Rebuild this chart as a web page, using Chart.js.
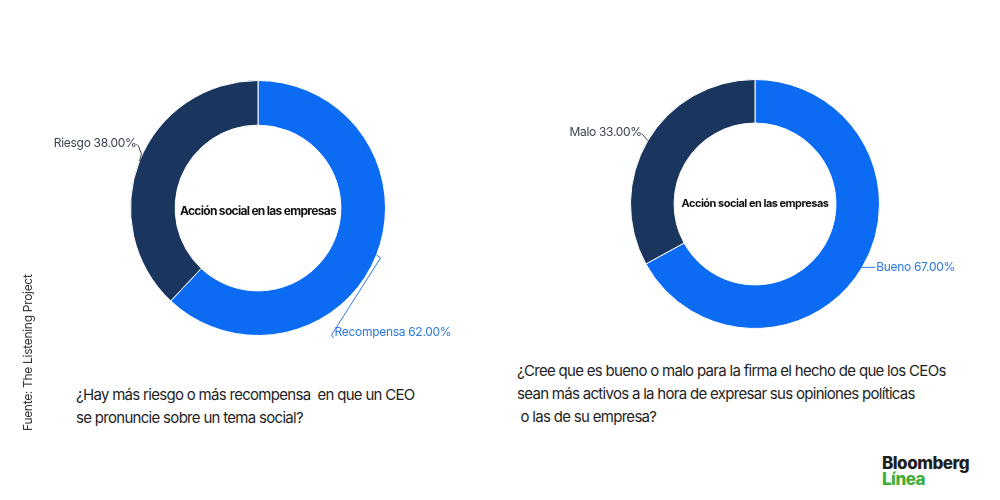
<!DOCTYPE html>
<html lang="es">
<head>
<meta charset="UTF-8">
<title>Acción social en las empresas</title>
<script src="https://cdn.jsdelivr.net/npm/chart.js@4"></script>
<style>
  body { margin: 0; width: 1000px; height: 500px; background: #fff; position: relative; overflow: hidden;
         font-family: Inter, "Noto Sans", sans-serif; color: #1e1e1e; }
  canvas { position: absolute; }
  #c1 { left: 28px; top: 58px; }
  #c2 { left: 525px; top: 54px; }
  .q { position: absolute; font-size: 15px; line-height: 23px; letter-spacing: -0.7px; white-space: pre; }
  #q1 { left: 76px; top: 383px; }
  #q2 { left: 517px; top: 359px; }
  #src { position: absolute; left: 20px; top: 431px; font-size: 12px; line-height: 16px; color: #333;
         letter-spacing: -0.3px; transform-origin: left top; transform: rotate(-90deg); white-space: nowrap; }
  #logo { position: absolute; left: 882px; top: 455px; font-size: 17px; line-height: 16px; font-weight: 800;
          letter-spacing: -0.5px; }
  #logo span { color: #3fae3b; }
</style>
</head>
<body>

<canvas id="c1" width="460" height="300"></canvas>
<canvas id="c2" width="460" height="300"></canvas>

<div class="q" id="q1">¿Hay más riesgo o más recompensa  en que un CEO
se pronuncie sobre un tema social?</div>
<div class="q" id="q2">¿Cree que es bueno o malo para la firma el hecho de que los CEOs
sean más activos a la hora de expresar sus opiniones políticas
 o las de su empresa?</div>

<div id="src">Fuente: The Listening Project</div>
<div id="logo">Bloomberg<br><span>Línea</span></div>

<script>
// data
const centerTitle = 'Acción social en las empresas';
const labels1 = ['Recompensa', 'Riesgo'];
const values1 = [62, 38];
const labels2 = ['Bueno', 'Malo'];
const values2 = [67, 33];

const BLUE = '#0b6cf3';
const NAVY = '#1b365e';

// center title + outside labels with leader lines
const donutText = {
  id: 'donutText',
  afterDraw(chart, args, opts) {
    const ctx = chart.ctx;
    const meta = chart.getDatasetMeta(0);
    const ds = chart.data.datasets[0];
    const first = meta.data[0];
    ctx.save();
    ctx.fillStyle = '#111';
    ctx.font = 'bold ' + opts.titleSize + 'px Inter, sans-serif';
    ctx.letterSpacing = opts.titleSpacing;
    ctx.textAlign = 'center';
    ctx.textBaseline = 'middle';
    ctx.fillText(centerTitle, first.x, first.y + opts.titleDy);

    ctx.font = '12px Inter, sans-serif';
    ctx.letterSpacing = '-0.3px';
    meta.data.forEach((arc, i) => {
      const mid = (arc.startAngle + arc.endAngle) / 2;
      const ax = arc.x + Math.cos(mid) * arc.outerRadius;
      const ay = arc.y + Math.sin(mid) * arc.outerRadius;
      const path = opts.leaders[i];
      const col = opts.labelColors[i];
      ctx.strokeStyle = col;
      ctx.lineWidth = 1;
      ctx.beginPath();
      ctx.moveTo(ax, ay);
      path.forEach(p => ctx.lineTo(ax + p[0], ay + p[1]));
      ctx.stroke();
      const end = path[path.length - 1];
      const txt = chart.data.labels[i] + ' ' + ds.data[i].toFixed(2) + '%';
      ctx.fillStyle = col;
      ctx.textAlign = opts.align[i];
      ctx.fillText(txt, ax + end[0] + opts.textOff[i][0], ay + end[1] + opts.textOff[i][1]);
    });
    ctx.restore();
  }
};

function makeDonut(id, labels, values, pad, pluginOpts) {
  return new Chart(document.getElementById(id), {
    type: 'doughnut',
    data: {
      labels: labels,
      datasets: [{
        data: values,
        backgroundColor: [BLUE, NAVY],
        borderColor: '#ffffff',
        borderWidth: 1
      }]
    },
    options: {
      responsive: false,
      animation: false,
      cutout: '65%',
      layout: { padding: { top: pad, bottom: pad } },
      plugins: {
        legend: { display: false },
        tooltip: { enabled: false },
        donutText: pluginOpts
      }
    },
    plugins: [donutText]
  });
}

makeDonut('c1', labels1, values1, 22, {
  titleSize: 12, titleDy: 3, titleSpacing: '-0.7px',
  labelColors: ['#2a78e4', '#3a4350'],
  leaders: [[[4, 3], [-45, 80], [-43, 83]], [[2, -7], [-1, -15], [-3, -17]]],
  textOff: [[1, -6], [0, -1]],
  align: ['left', 'right']
});

makeDonut('c2', labels2, values2, 25, {
  titleSize: 11, titleDy: 0, titleSpacing: '-0.5px',
  labelColors: ['#2a78e4', '#3a4350'],
  leaders: [[[13, 0]], [[-6, -7]]],
  textOff: [[1, 0], [0, -1]],
  align: ['left', 'right']
});
</script>
</body>
</html>
